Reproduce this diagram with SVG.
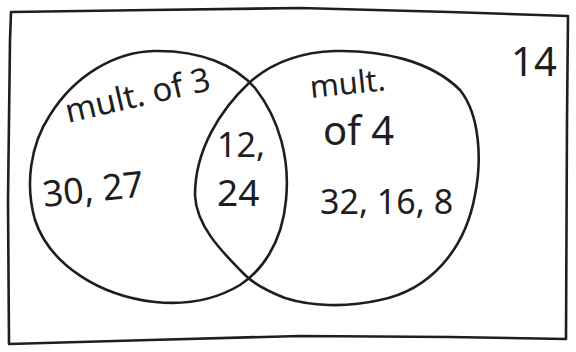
<svg xmlns="http://www.w3.org/2000/svg" width="576" height="352" viewBox="0 0 576 352">
<style>
.ln{fill:none;stroke:#1e1e1e;stroke-width:2.6;stroke-linecap:round;stroke-linejoin:round}
.t{font-family:"Noto Sans","DejaVu Sans",sans-serif;fill:#1e1e1e;font-weight:normal}
</style>
<rect width="576" height="352" fill="#ffffff"/>
<g id="universe">
<path class="ln" d="M11,12 L150,10 L300,8 L450,12 L568,16 L567,120 L566,339 L450,337 L300,336 L150,340 L9,344 L8,200 L10,40 Z"/>
<text class="t" x="511" y="76" font-size="40">14</text>
</g>
<g id="set-mult3">
<path class="ln" d="M154,51 C200,50 235,65 255,88 C280,120 290,160 286,200 C282,245 260,272 240,285 C215,300 185,305 155,302 C100,296 50,265 35,220 C25,185 30,145 50,115 C75,75 115,52 154,51 Z"/>
<text class="t" x="68" y="123" font-size="33" transform="rotate(-13 68 123)">mult. of 3</text>
<text class="t" x="44" y="207" font-size="36" transform="rotate(-6 44 207)">30, 27</text>
</g>
<g id="set-mult4">
<path class="ln" d="M250,82 C275,60 305,52 335,51 C380,50 430,60 460,90 C480,115 482,160 475,195 C465,250 430,290 380,300 C345,308 310,306 285,298 C265,290 252,282 245,275 C220,250 196,225 195,195 C195,150 220,110 250,82 Z"/>
<text class="t" x="311" y="98" font-size="31" transform="rotate(-6 311 98)">mult.</text>
<text class="t" x="323" y="145" font-size="40">of 4</text>
<text class="t" x="320" y="214" font-size="34">32, 16, 8</text>
</g>
<g id="intersection">
<text class="t" x="217" y="157" font-size="34">12,</text>
<text class="t" x="217" y="206" font-size="37">24</text>
</g>
</svg>
